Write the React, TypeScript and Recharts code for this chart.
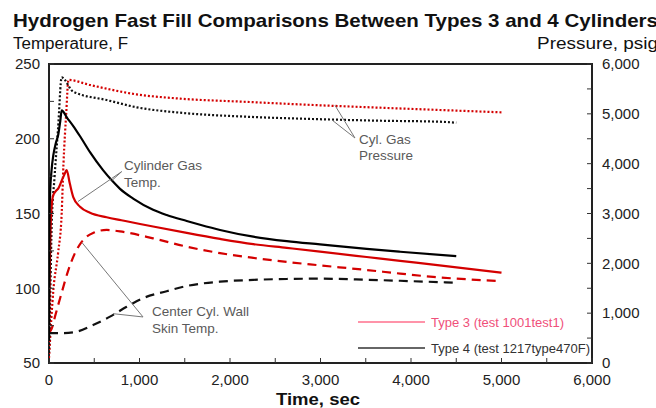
import { LineChart, Line, XAxis, YAxis, ReferenceArea, ReferenceLine } from "recharts";

// Type 3 cylinder (test 1001test1)
const type3GasTime = [0, 20, 45, 75, 105, 140, 170, 195, 230, 268, 343, 453, 637, 800, 1006, 1150, 1522, 1890, 2257, 2627, 2995, 3510, 3880, 4245, 5000];
const type3GasTemp = [70, 145, 162, 165, 167, 172, 176, 179, 170, 161, 154.5, 150.5, 147.5, 145.5, 143, 141.3, 137, 133, 129.5, 127, 124.5, 120.9, 118.3, 115.8, 110.4];

const type3WallTime = [0, 30, 66, 140, 213, 287, 361, 487, 637, 785, 1150, 1522, 1890, 2257, 2627, 2995, 3510, 3880, 4245, 5000];
const type3WallTemp = [70, 73, 81, 97, 112, 123.5, 131, 137, 139, 138, 133.4, 127.8, 123.5, 120.3, 117.6, 115.3, 112.2, 109.8, 107.6, 104.8];

const type3PresTime = [0, 50, 100, 140, 160, 190, 215, 453, 969, 1448, 2185, 2920, 3657, 4320, 5000];
const type3Pres = [100, 1500, 2200, 3000, 4000, 5000, 5680, 5579, 5390, 5305, 5240, 5177, 5123, 5077, 5030];

// Type 4 cylinder (test 1217type470F)
const type4GasTime = [0, 5, 11, 30, 48, 75, 103, 125, 140, 200, 268, 350, 453, 597, 696, 785, 930, 1150, 1300, 1522, 1669, 1890, 2257, 2627, 2995, 3510, 3880, 4500];
const type4GasTemp = [65, 140, 162, 180, 189, 197, 203, 212, 219, 214, 208.5, 201, 191, 179, 172, 166.5, 160, 152.5, 149, 145, 142.5, 139, 134.5, 131.5, 129.3, 126.3, 124.4, 121.5];

const type4WallTime = [0, 150, 306, 487, 674, 858, 1041, 1300, 1522, 1890, 2257, 2627, 2995, 3510, 3880, 4500];
const type4WallTemp = [70, 70, 71, 75.4, 81, 87.6, 93.4, 98, 101.5, 104.4, 105.6, 106.2, 106.4, 105.7, 105, 103.7];

const type4PresTime = [0, 15, 30, 60, 100, 140, 268, 637, 969, 1448, 2185, 2917, 3657, 4320, 4500];
const type4Pres = [200, 1500, 2800, 3700, 4700, 5730, 5444, 5277, 5131, 5023, 4942, 4896, 4862, 4842, 4822];

const timeTicks = [0, 500, 1000, 1500, 2000, 2500, 3000, 3500, 4000, 4500, 5000, 5500, 6000];
const tempTicks = [50, 75, 100, 125, 150, 175, 200, 225, 250];
const presTicks = [0, 500, 1000, 1500, 2000, 2500, 3000, 3500, 4000, 4500, 5000, 5500, 6000];

const legendItems = [
  { label: "Type 3 (test 1001test1)", line: "#ff6f8c", text: "#f0507a" },
  { label: "Type 4 (test 1217type470F)", line: "#333333", text: "#333333" },
];

const toPoints = (ts: number[], vs: number[]) => ts.map((t, i) => ({ t, v: vs[i] }));

const RED = "#d40000";
const FONT = "'Liberation Sans', Arial, sans-serif";
const GRAY = "#5a5a5a";

const fmt = (step: number) => (v: number) => (v % step === 0 ? v.toLocaleString("en-US") : "");

export default function App() {
  const tick = { fontSize: 15, fill: "#222", fontFamily: FONT };
  return (
    <div style={{ position: "absolute", left: 0, top: 0, width: 656, height: 408, background: "#fff", fontFamily: FONT }}>
      <LineChart width={656} height={408} margin={{ top: 64, right: 0, bottom: 0, left: 0 }}>
        <XAxis
          dataKey="t"
          type="number"
          domain={[0, 6000]}
          ticks={timeTicks}
          interval={0}
          tickFormatter={fmt(1000)}
          height={45}
          axisLine={false}
          tickSize={-5}
          tickMargin={16}
          tick={tick}
          tickLine={{ stroke: "#333" }}
          allowDataOverflow
        />
        <YAxis
          yAxisId="temp"
          type="number"
          domain={[50, 250]}
          ticks={tempTicks}
          interval={0}
          tickFormatter={fmt(50)}
          width={49}
          axisLine={false}
          tickSize={-5}
          tickMargin={14}
          tick={tick}
          tickLine={{ stroke: "#333" }}
          allowDataOverflow
        />
        <YAxis
          yAxisId="pres"
          orientation="right"
          type="number"
          domain={[0, 6000]}
          ticks={presTicks}
          interval={0}
          tickFormatter={fmt(1000)}
          width={64}
          axisLine={false}
          tickSize={-5}
          tickMargin={15}
          tick={{ ...tick, textAnchor: "start" }}
          tickLine={{ stroke: "#333" }}
          allowDataOverflow
        />
        <ReferenceArea yAxisId="temp" x1={0} x2={6000} y1={50} y2={250} fill="none" stroke="#222" strokeWidth={2} />

        <Line yAxisId="pres" data={toPoints(type3PresTime, type3Pres)} dataKey="v" type="monotone" stroke={RED} strokeWidth={2.2} strokeDasharray="2 2" dot={false} isAnimationActive={false} />
        <Line yAxisId="pres" data={toPoints(type4PresTime, type4Pres)} dataKey="v" type="monotone" stroke="#111" strokeWidth={2.2} strokeDasharray="2 2" dot={false} isAnimationActive={false} />
        <Line yAxisId="temp" data={toPoints(type3WallTime, type3WallTemp)} dataKey="v" type="monotone" stroke={RED} strokeWidth={2.2} strokeDasharray="9 6" dot={false} isAnimationActive={false} />
        <Line yAxisId="temp" data={toPoints(type4WallTime, type4WallTemp)} dataKey="v" type="monotone" stroke="#111" strokeWidth={2.2} strokeDasharray="9 6" dot={false} isAnimationActive={false} />
        <Line yAxisId="temp" data={toPoints(type3GasTime, type3GasTemp)} dataKey="v" type="monotone" stroke={RED} strokeWidth={2.2} dot={false} isAnimationActive={false} />
        <Line yAxisId="temp" data={toPoints(type4GasTime, type4GasTemp)} dataKey="v" type="monotone" stroke="#000" strokeWidth={2.2} dot={false} isAnimationActive={false} />

        {/* annotation pointers */}
        <ReferenceLine yAxisId="temp" segment={[{ x: 803, y: 178 }, { x: 320, y: 158 }]} stroke="#777" ifOverflow="visible" />
        <ReferenceLine yAxisId="temp" segment={[{ x: 803, y: 178 }, { x: 693, y: 172 }]} stroke="#777" ifOverflow="visible" />
        <ReferenceLine yAxisId="pres" segment={[{ x: 3381, y: 4515 }, { x: 3160, y: 5170 }]} stroke="#777" ifOverflow="visible" />
        <ReferenceLine yAxisId="pres" segment={[{ x: 3381, y: 4515 }, { x: 3127, y: 4876 }]} stroke="#777" ifOverflow="visible" />
        <ReferenceLine yAxisId="temp" segment={[{ x: 1039, y: 80.8 }, { x: 365, y: 130.5 }]} stroke="#777" ifOverflow="visible" />
        <ReferenceLine yAxisId="temp" segment={[{ x: 1039, y: 80.8 }, { x: 707, y: 83 }]} stroke="#777" ifOverflow="visible" />
      </LineChart>

      <svg width={656} height={408} style={{ position: "absolute", left: 0, top: 0, pointerEvents: "none" }} fontFamily={FONT}>
        <text x={13} y={27} fontSize={19} fontWeight="bold" fill="#111" textLength={645} lengthAdjust="spacingAndGlyphs">
          Hydrogen Fast Fill Comparisons Between Types 3 and 4 Cylinders
        </text>
        <text x={13} y={49} fontSize={16} fill="#111" textLength={115} lengthAdjust="spacingAndGlyphs">Temperature, F</text>
        <text x={537} y={49} fontSize={16} fill="#111" textLength={121} lengthAdjust="spacingAndGlyphs">Pressure, psig</text>
        <text x={276} y={405} fontSize={16} fontWeight="bold" fill="#111" textLength={84} lengthAdjust="spacingAndGlyphs">Time, sec</text>

        <g fontSize={13.5} fill={GRAY}>
          <text x={124} y={170}>Cylinder Gas</text>
          <text x={124} y={187}>Temp.</text>
          <text x={359} y={144}>Cyl. Gas</text>
          <text x={359} y={160}>Pressure</text>
          <text x={152} y={316}>Center Cyl. Wall</text>
          <text x={152} y={333}>Skin Temp.</text>
        </g>

        {legendItems.map((it, i) => (
          <g key={it.label}>
            <line x1={358} x2={425} y1={322 + i * 26} y2={322 + i * 26} stroke={it.line} strokeWidth={1.5} />
            <text x={431} y={327 + i * 26} fontSize={13} fill={it.text}>{it.label}</text>
          </g>
        ))}
      </svg>
    </div>
  );
}
